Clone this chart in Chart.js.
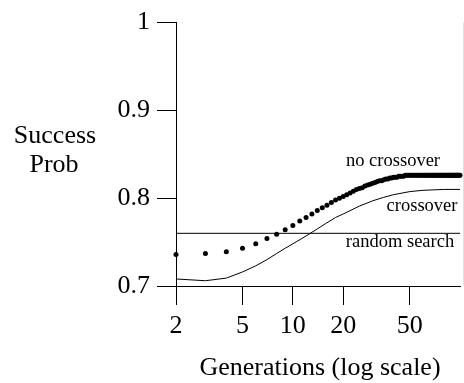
<!DOCTYPE html>
<html>
<head>
<meta charset="utf-8">
<script src="https://cdn.jsdelivr.net/npm/chart.js@4/dist/chart.umd.min.js"></script>
<style>
  body { margin: 0; background: #fff; }
  canvas { display: block; }
</style>
</head>
<body>
<canvas id="chart" width="464" height="383"></canvas>
<script>
// generations for the dotted "no crossover" series
var noXGens = [
  2, 3, 4, 5, 6, 7, 8, 9, 10, 11, 12, 13, 14, 15, 16, 17, 18, 19, 20,
  21, 22, 23, 24, 25, 26, 27, 28, 29, 30, 31, 32, 33, 34, 35, 36, 37, 38, 39, 40,
  41, 42, 43, 44, 45, 46, 47, 48, 49, 50, 51, 52, 53, 54, 55, 56, 57, 58, 59, 60,
  61, 62, 63, 64, 65, 66, 67, 68, 69, 70, 71, 72, 73, 74, 75, 76, 77, 78, 79, 80,
  81, 82, 83, 84, 85, 86, 87, 88, 89, 90, 91, 92, 93, 94, 95, 96, 97, 98, 99, 100
];
var noXValues = [
  0.736, 0.737, 0.739, 0.743, 0.748, 0.754, 0.759, 0.764, 0.769, 0.774, 0.778, 0.782, 0.786, 0.789, 0.792, 0.795, 0.798, 0.800, 0.802,
  0.804, 0.806, 0.808, 0.810, 0.811, 0.812, 0.814, 0.815, 0.816, 0.817, 0.818, 0.819, 0.820, 0.820, 0.821, 0.822, 0.822, 0.823, 0.823, 0.824,
  0.824, 0.824, 0.825, 0.825, 0.825, 0.825, 0.826, 0.826, 0.826, 0.826, 0.826, 0.826, 0.826, 0.826, 0.826, 0.826, 0.826, 0.826, 0.826, 0.826,
  0.826, 0.826, 0.826, 0.826, 0.826, 0.826, 0.826, 0.826, 0.826, 0.826, 0.826, 0.826, 0.826, 0.826, 0.826, 0.826, 0.826, 0.826, 0.826, 0.826,
  0.826, 0.826, 0.826, 0.826, 0.826, 0.826, 0.826, 0.826, 0.826, 0.826, 0.826, 0.826, 0.826, 0.826, 0.826, 0.826, 0.826, 0.826, 0.826, 0.826
];

// "crossover" curve
var xGens = [2, 3, 4, 5, 6, 7, 8, 9, 10, 12, 14, 16, 18, 20, 25, 30, 35, 40, 50, 60, 70, 80, 100];
var xValues = [0.708, 0.706, 0.709, 0.716, 0.723, 0.730, 0.737, 0.743, 0.748, 0.757, 0.765, 0.772, 0.778, 0.782, 0.791, 0.797, 0.801, 0.804, 0.8075, 0.809, 0.8095, 0.810, 0.810];

// "random search" level
var randomGens = [2, 100];
var randomValues = [0.76, 0.76];

var xTicks = [2, 5, 10, 20, 50];
var yTicks = [0.7, 0.8, 0.9, 1];

function toPoints(xs, ys) {
  return xs.map(function (x, i) { return { x: x, y: ys[i] }; });
}

var serif = 'Liberation Serif';

var textPlugin = {
  id: 'texts',
  afterDraw: function (chart) {
    var ctx = chart.ctx;
    var area = chart.chartArea;
    ctx.save();
    ctx.fillStyle = '#000';
    ctx.textAlign = 'center';
    ctx.textBaseline = 'alphabetic';
    ctx.font = '26px "' + serif + '"';
    ctx.fillText('Success', 55, 143);
    ctx.fillText('Prob', 54, 172);
    ctx.fillText('Generations (log scale)', 320, 375);
    ctx.font = '18.5px "' + serif + '"';
    ctx.fillText('no crossover', 393, 166);
    ctx.fillText('crossover', 422, 211);
    ctx.fillText('random search', 400, 247);
    // faint right border
    ctx.strokeStyle = '#e2e2e2';
    ctx.lineWidth = 1;
    ctx.beginPath();
    ctx.moveTo(463.5, area.top);
    ctx.lineTo(463.5, area.bottom);
    ctx.stroke();
    ctx.restore();
  }
};

new Chart(document.getElementById('chart'), {
  type: 'line',
  data: {
    datasets: [
      {
        label: 'no crossover',
        data: toPoints(noXGens, noXValues),
        showLine: false,
        pointRadius: 2.5,
        pointBackgroundColor: '#000',
        pointBorderWidth: 0,
        clip: false
      },
      {
        label: 'crossover',
        data: toPoints(xGens, xValues),
        borderColor: '#000',
        borderWidth: 1,
        pointRadius: 0,
        tension: 0,
        clip: false
      },
      {
        label: 'random search',
        data: toPoints(randomGens, randomValues),
        borderColor: '#000',
        borderWidth: 1,
        pointRadius: 0,
        clip: false
      }
    ]
  },
  options: {
    responsive: false,
    animation: false,
    layout: { padding: { top: 17, right: 1, left: 0, bottom: 0 } },
    plugins: { legend: { display: false }, tooltip: { enabled: false } },
    scales: {
      x: {
        type: 'logarithmic',
        min: 2,
        max: 100,
        afterFit: function (s) { s.height = 97; },
        afterBuildTicks: function (s) {
          s.ticks = xTicks.map(function (v) { return { value: v }; });
        },
        grid: { drawOnChartArea: false, tickLength: 19, tickColor: '#000', color: '#000' },
        border: { color: '#000', width: 1 },
        ticks: {
          color: '#000',
          font: { family: serif, size: 26 },
          padding: 6,
          maxRotation: 0,
          autoSkip: false,
          callback: function (v) { return String(v); }
        }
      },
      y: {
        min: 0.7,
        max: 1,
        afterFit: function (s) { s.width = 176; },
        afterBuildTicks: function (s) {
          s.ticks = yTicks.map(function (v) { return { value: v }; });
        },
        grid: { drawOnChartArea: false, tickLength: 19, tickColor: '#000', color: '#000' },
        border: { color: '#000', width: 1 },
        ticks: {
          color: '#000',
          font: { family: serif, size: 26 },
          padding: 7,
          callback: function (v) { return v === 1 ? '1' : v.toFixed(1); }
        }
      }
    }
  },
  plugins: [textPlugin]
});
</script>
</body>
</html>
